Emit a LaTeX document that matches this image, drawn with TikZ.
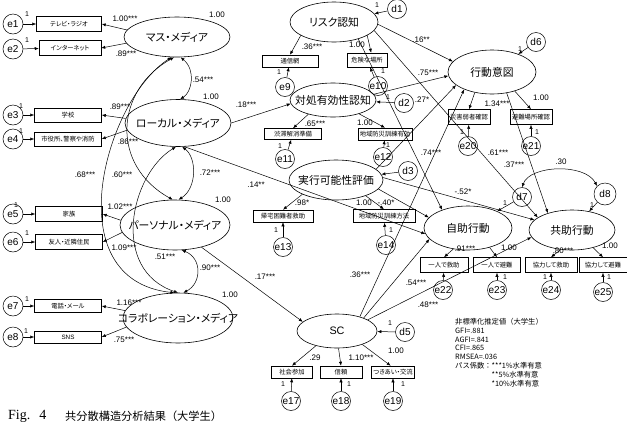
\documentclass[tikz,border=0pt]{standalone}
\usepackage{fontspec}
\setmainfont{Liberation Sans}
\newfontfamily\jp{Noto Sans CJK JP}[RawFeature=+palt]
\newfontfamily\jpfix{Noto Sans CJK JP}
\newfontfamily\capfont{Liberation Serif}
\usetikzlibrary{arrows.meta,shapes.geometric}
\newcommand{\latname}[1]{\makebox[0pt]{#1}}

\begin{document}
\begin{tikzpicture}[x=1pt,y=-1pt,
  lat/.style={ellipse,draw,line width=0.6pt,inner sep=0pt,font=\jp\fontsize{10.8}{10.8}\selectfont},
  obs/.style={rectangle,draw,line width=0.5pt,inner sep=0pt,font=\jp\fontsize{6.3}{6.3}\selectfont},
  err/.style={circle,draw,line width=0.5pt,inner sep=0pt,minimum size=19pt,font=\fontsize{10}{10}\selectfont},
  reg/.style={-{Latex[length=4pt,width=3.2pt]},line width=0.5pt},
  cov/.style={{Latex[length=4pt,width=3.2pt]}-{Latex[length=4pt,width=3.2pt]},line width=0.5pt},
  coef/.style={inner sep=0pt,font=\fontsize{8}{8}\selectfont},
  one/.style={inner sep=0pt,font=\fontsize{7}{7}\selectfont}
]
\fill[white] (0,0) rectangle (627,429);
\useasboundingbox (0,0) rectangle (627,429);

% media latents
\node[lat,minimum width=106pt,minimum height=40pt] (mass) at (177,37) {\latname{マス・メディア}};
\node[lat,minimum width=106pt,minimum height=47pt] (local) at (178,123) {\latname{ローカル・メディア}};
\node[lat,minimum width=110pt,minimum height=50pt] (pers) at (175,225) {\latname{パーソナル・メディア}};
\node[lat,minimum width=110pt,minimum height=50pt] (collab) at (178,318) {\latname{コラボレーション・メディア}};

% other latents
\node[lat,minimum width=88pt,minimum height=40pt] (risk) at (334,22) {\latname{リスク認知}};
\node[lat,minimum width=86pt,minimum height=34pt] (coping) at (333,100) {\latname{対処有効性認知}};
\node[lat,minimum width=94pt,minimum height=40pt] (feas) at (336,180) {\latname{実行可能性評価}};
\node[lat,minimum width=88pt,minimum height=44pt] (intent) at (492,72) {\latname{行動意図}};
\node[lat,minimum width=88pt,minimum height=44pt] (self) at (468,228) {\latname{自助行動}};
\node[lat,minimum width=86pt,minimum height=40pt] (mutual) at (572,230) {\latname{共助行動}};
\node[lat,minimum width=80pt,minimum height=34pt] (sc) at (337,331) {\latname{\normalfont SC}};

% observed variables
\node[obs,minimum width=65pt,minimum height=15pt] (tv) at (69,24) {テレビ・ラジオ};
\node[obs,minimum width=62pt,minimum height=15pt] (net) at (70,48) {インターネット};
\node[obs,minimum width=67pt,minimum height=14pt] (school) at (68,115) {学校};
\node[obs,minimum width=67pt,minimum height=14pt] (city) at (68,139) {市役所、警察や消防};
\node[obs,minimum width=67pt,minimum height=15pt] (family) at (69,214) {家族};
\node[obs,minimum width=67pt,minimum height=15pt] (friend) at (69,242) {友人・近隣住民};
\node[obs,minimum width=67pt,minimum height=13pt] (phone) at (68,306) {電話・メール};
\node[obs,minimum width=67pt,minimum height=12pt] (sns) at (68,337) {\normalfont SNS};
\node[obs,minimum width=56pt,minimum height=12pt] (tsushin) at (290,61) {通信網};
\node[obs,minimum width=40pt,minimum height=14pt] (kiken) at (367,60) {危険な場所};
\node[obs,minimum width=57pt,minimum height=11pt] (jutai) at (293,134) {渋滞解消準備};
\node[obs,minimum width=54pt,minimum height=12pt] (kunren1) at (385,134) {地域防災訓練有効};
\node[obs,minimum width=60pt,minimum height=12pt] (kitaku) at (283,216) {帰宅困難者救助};
\node[obs,minimum width=62pt,minimum height=13pt] (kunren2) at (384,216) {地域防災訓練方法};
\node[obs,minimum width=42pt,minimum height=15pt] (jakusha) at (469,117) {災害弱者確認};
\node[obs,minimum width=42pt,minimum height=15pt] (hinan) at (531,117) {避難場所確認};
\node[obs,minimum width=48pt,minimum height=15pt] (kyujo1) at (444,265) {一人で救助};
\node[obs,minimum width=47pt,minimum height=15pt] (hinan1) at (497,265) {一人で避難};
\node[obs,minimum width=52pt,minimum height=15pt] (kyujo2) at (551,265) {協力して救助};
\node[obs,minimum width=48pt,minimum height=15pt] (hinan2) at (603,265) {協力して避難};
\node[obs,minimum width=41pt,minimum height=12pt] (sanka) at (292,372) {社会参加};
\node[obs,minimum width=42pt,minimum height=12pt] (shinrai) at (341,372) {信頼};
\node[obs,minimum width=43pt,minimum height=12pt] (koryu) at (393,372) {つきあい・交流};

% errors and disturbances
\node[err,minimum size=20pt] (e1) at (13,24) {e1};
\node[err,minimum size=20pt] (e2) at (13,49) {e2};
\node[err,minimum size=20pt] (e3) at (13,115) {e3};
\node[err,minimum size=20pt] (e4) at (13,139) {e4};
\node[err,minimum size=20pt] (e5) at (13,214) {e5};
\node[err,minimum size=20pt] (e6) at (13,242) {e6};
\node[err,minimum size=20pt] (e7) at (13,306) {e7};
\node[err,minimum size=20pt] (e8) at (13,337) {e8};
\node[err] (e9) at (285,87) {e9};
\node[err] (e10) at (378,86) {e10};
\node[err] (e11) at (285,159) {e11};
\node[err] (e12) at (383,157) {e12};
\node[err] (e13) at (283,247) {e13};
\node[err] (e14) at (386,245) {e14};
\node[err] (e17) at (291,401) {e17};
\node[err] (e18) at (341,401) {e18};
\node[err] (e19) at (393,401) {e19};
\node[err] (e20) at (468,146) {e20};
\node[err] (e21) at (531,146) {e21};
\node[err] (e22) at (443,290) {e22};
\node[err] (e23) at (497,290) {e23};
\node[err] (e24) at (551,290) {e24};
\node[err] (e25) at (603,292) {e25};
\node[err] (d1) at (397,9) {d1};
\node[err] (d2) at (404,103) {d2};
\node[err] (d3) at (408,171) {d3};
\node[err] (d5) at (405,332) {d5};
\node[err] (d6) at (536,42) {d6};
\node[err] (d7) at (522,197) {d7};
\node[err,minimum size=22pt] (d8) at (605,194) {d8};

% error paths
\draw[reg] (e1) -- (tv); \draw[reg] (e2) -- (net);
\draw[reg] (e3) -- (school); \draw[reg] (e4) -- (city);
\draw[reg] (e5) -- (family); \draw[reg] (e6) -- (friend);
\draw[reg] (e7) -- (phone); \draw[reg] (e8) -- (sns);
\draw[reg] (e9) -- (tsushin); \draw[reg] (e10) -- (kiken);
\draw[reg] (e11) -- (jutai); \draw[reg] (e12) -- (kunren1);
\draw[reg] (e13) -- (kitaku); \draw[reg] (e14) -- (kunren2);
\draw[reg] (e20) -- (jakusha); \draw[reg] (e21) -- (hinan);
\draw[reg] (e22) -- (kyujo1); \draw[reg] (e23) -- (hinan1);
\draw[reg] (e24) -- (kyujo2); \draw[reg] (e25) -- (hinan2);
\draw[reg] (e17) -- (sanka); \draw[reg] (e18) -- (shinrai); \draw[reg] (e19) -- (koryu);
\draw[reg] (d1) -- (risk); \draw[reg] (d2) -- (coping); \draw[reg] (d3) -- (feas);
\draw[reg] (d5) -- (sc); \draw[reg] (d6) -- (intent);
\draw[reg] (d7) -- (self); \draw[reg] (d8) -- (mutual);

% loadings
\draw[reg] (mass.172) -- (tv.east); \draw[reg] (mass.187) -- (net.east);
\draw[reg] (local.175) -- (school.east); \draw[reg] (local.188) -- (city.east);
\draw[reg] (pers.175) -- (family.east); \draw[reg] (pers.188) -- (friend.east);
\draw[reg] (collab.172) -- (phone.east); \draw[reg] (collab.190) -- (sns.east);
\draw[reg] (risk.-158) -- (tsushin.north); \draw[reg] (risk.-22) -- (kiken.60);
\draw[reg] (coping.-150) -- (jutai.north); \draw[reg] (coping.-28) -- (kunren1.north);
\draw[reg] (feas.-157) -- (kitaku.north); \draw[reg] (feas.-28) -- (kunren2.north);
\draw[reg] (intent.-130) -- (jakusha.north); \draw[reg] (intent.-40) -- (hinan.north);
\draw[reg] (self.-125) -- (kyujo1.north); \draw[reg] (self.-42) -- (hinan1.north);
\draw[reg] (mutual.-120) -- (kyujo2.north); \draw[reg] (mutual.-40) -- (hinan2.north);
\draw[reg] (sc.-145) -- (sanka.north); \draw[reg] (sc.-85) -- (shinrai.north);
\draw[reg] (sc.-28) -- (koryu.110);

% covariances
\draw[cov] (mass.-80) .. controls (196,70) and (192,92) .. (local.85);
\draw[cov] (mass.-98) .. controls (115,90) and (110,165) .. (pers.95);
\draw[cov] (mass.-105) .. controls (105,100) and (55,280) .. (collab.98);
\draw[cov] (local.-80) .. controls (197,158) and (197,188) .. (pers.82);
\draw[cov] (local.-95) .. controls (130,175) and (110,270) .. (collab.90);
\draw[cov] (pers.-75) .. controls (202,258) and (202,283) .. (collab.78);
\draw[cov] (d7.north) .. controls (530,165) and (585,163) .. (d8.north west);

% structural paths
\draw[reg] (local.east) -- (coping.185);
\draw[reg] (local.-75) -- (self.188);
\draw[reg] (pers.-40) -- (sc.165);
\draw[reg] (risk.-3) -- (intent.165);
\draw[reg] (coping.8) -- (intent.185);
\draw[reg] (feas.15) -- (intent.200);
\draw[reg] (sc.32) -- (intent.212);
\draw[reg] (risk.-35) -- (self.145);
\draw[reg] (risk.-12) -- (mutual.160);
\draw[reg] (intent.-55) -- (mutual.145);
\draw[reg] (feas.-12) -- (self.165);
\draw[reg] (feas.3) -- (mutual.165);
\draw[reg] (sc.26) -- (self.196);
\draw[reg] (sc.20) -- (mutual.190);

% coefficients
\node[coef] (c1) at (125,19) {1.00***};
\node[coef] (c2) at (126,54) {.89***};
\node[coef] (c3) at (120,107) {.89***};
\node[coef] (c4) at (128,142) {.86***};
\node[coef] (c5) at (120,207) {1.02***};
\node[coef] (c6) at (124,248) {1.09***};
\node[coef] (c7) at (129,303) {1.16***};
\node[coef] (c8) at (124,340) {.75***};
\node[coef] (v1) at (217,15) {1.00};
\node[coef] (v2) at (211,97) {1.00};
\node[coef] (v3) at (223,200) {1.00};
\node[coef] (v4) at (230,295) {1.00};
\node[coef] (r1) at (203,80) {.54***};
\node[coef] (r2) at (122,175) {.60***};
\node[coef] (r3) at (85,175) {.68***};
\node[coef] (r4) at (210,173) {.72***};
\node[coef] (r5) at (165,257) {.51***};
\node[coef] (r6) at (210,268) {.90***};
\node[coef] (r7) at (561,162) {.30};
\node[coef] (b1) at (246,105) {.18***};
\node[coef] (b2) at (256,185) {.14**};
\node[coef] (b3) at (265,277) {.17***};
\node[coef] (l1) at (312,47) {.36***};
\node[coef] (l2) at (357,45) {1.00};
\node[coef] (l3) at (315,124) {.65***};
\node[coef] (l4) at (365,123) {1.00};
\node[coef] (l5) at (302,203) {.98*};
\node[coef] (l6) at (364,203) {1.00};
\node[coef] (l7) at (497,104) {1.34***};
\node[coef] (l8) at (541,98) {1.00};
\node[coef] (l9) at (465,249) {.91***};
\node[coef] (l10) at (509,248) {1.00};
\node[coef] (l11) at (563,251) {.80***};
\node[coef] (l12) at (610,246) {1.00};
\node[coef] (l13) at (315,358) {.29};
\node[coef] (l14) at (361,358) {1.10***};
\node[coef] (l15) at (396,351) {1.00};
\node[coef] (b4) at (386,203) {-.40*};
\node[coef] (b5) at (421,40) {.16**};
\node[coef] (b6) at (428,73) {.75***};
\node[coef] (b7) at (422,100) {.27*};
\node[coef] (b8) at (431,153) {.74***};
\node[coef] (b9) at (360,275) {.36***};
\node[coef] (b10) at (416,283) {.54***};
\node[coef] (b11) at (428,305) {.48***};
\node[coef] (b12) at (498,153) {.61***};
\node[coef] (b13) at (514,165) {.37***};
\node[coef] (b14) at (463,192) {-.52*};

% fixed weights
\node[one] at (27,14) {1}; \node[one] at (27,40) {1};
\node[one] at (21,106) {1}; \node[one] at (21,131) {1};
\node[one] at (16,205) {1}; \node[one] at (27,233) {1};
\node[one] at (27,299) {1}; \node[one] at (26,331) {1};
\node[one] at (279,72) {1}; \node[one] at (383,71) {1};
\node[one] at (280,146) {1}; \node[one] at (388,145) {1};
\node[one] at (276,230) {1}; \node[one] at (391,230) {1};
\node[one] at (462,132) {1}; \node[one] at (537,132) {1};
\node[one] at (505,277) {1}; \node[one] at (545,277) {1};
\node[one] at (609,277) {1};
\node[one] at (283,384) {1}; \node[one] at (349,384) {1}; \node[one] at (403,384) {1};
\node[one] at (377,5) {1}; \node[one] at (388,97) {1};
\node[one] at (390,323) {1}; \node[one] at (520,49) {1};
\node[one] at (505,203) {1}; \node[one] at (592,205) {1};

% fit legend
\node[anchor=north west,align=left,inner sep=0pt,font=\jpfix\fontsize{7.3}{8.8}\selectfont] (legend) at (455,318)
  {非標準化推定値（大学生）\\ GFI=.881\\ AGFI=.841\\ CFI=.865\\ RMSEA=.036\\
   パス係数：***1\%水準有意\\ \phantom{パス係数：}**5\%水準有意\\ \phantom{パス係数：}*10\%水準有意};

% caption
\node[anchor=west,inner sep=0pt,font=\capfont\fontsize{14}{14}\selectfont] (figno) at (8,416) {Fig.\hspace{9pt}4};
\node[anchor=west,inner sep=0pt,font=\jpfix\fontsize{11.2}{11.2}\selectfont] (caption) at (65,416) {共分散構造分析結果（大学生）};
\end{tikzpicture}
\end{document}
